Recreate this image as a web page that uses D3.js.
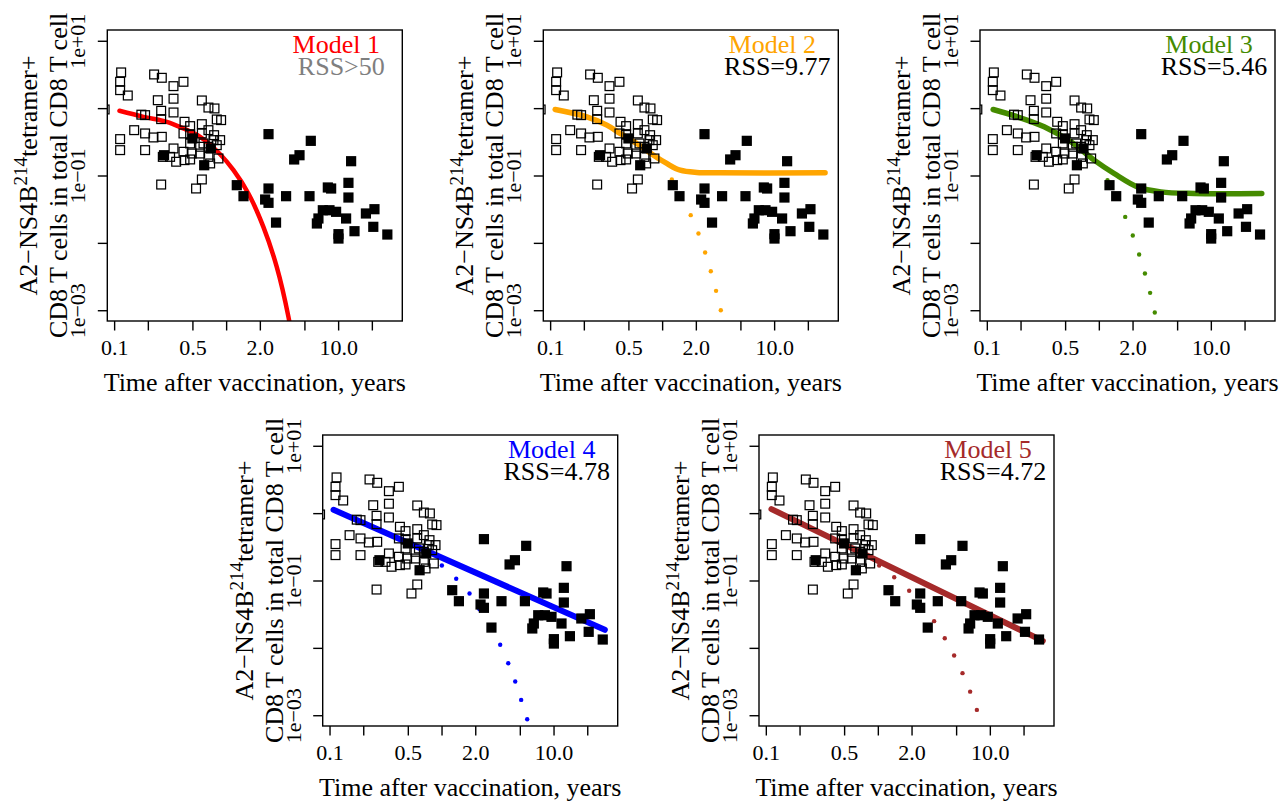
<!DOCTYPE html>
<html>
<head>
<meta charset="utf-8">
<script src="https://cdn.jsdelivr.net/npm/d3@7"></script>
<style>
  body { margin: 0; background: #fff; }
  svg { display: block; font-family: "Liberation Serif", "Times New Roman", serif; }
</style>
</head>
<body>
<div id="chart"></div>
<script>
// Observed data: open squares (early time points) and filled squares (late time points)
const openTime = [0.1155, 0.1131, 0.1131, 0.1324, 0.2275, 0.2665, 0.3388, 0.4159, 0.2455, 0.339,
  0.607, 0.695, 0.787, 0.189, 0.263, 0.339, 0.825, 0.902, 0.263, 0.477,
  0.607, 0.425, 0.151, 0.189, 0.2244, 0.2665, 0.1131, 0.1131, 0.189, 0.339,
  0.416, 0.477, 0.607, 0.695, 0.781, 0.884, 0.771, 0.477, 0.586, 0.695,
  0.825, 0.272, 0.358, 0.425, 0.493, 0.586, 0.695, 0.854, 0.720, 0.477,
  0.263, 0.607, 0.539, 0.316, 0.416, 0.628, 0.0823, 0.175];
const openValue = [3.39, 2.46, 1.85, 1.54, 3.16, 2.82, 2.12, 2.46, 1.31, 1.38,
  1.30, 1.02, 0.989, 0.787, 0.913, 0.862, 0.679, 0.664, 0.687, 0.541,
  0.578, 0.627, 0.471, 0.421, 0.367, 0.375, 0.347, 0.238, 0.238, 0.252,
  0.421, 0.411, 0.421, 0.471, 0.397, 0.335, 0.335, 0.299, 0.267, 0.267,
  0.282, 0.189, 0.160, 0.169, 0.212, 0.212, 0.189, 0.179, 0.151, 0.173,
  0.0734, 0.0873, 0.0641, 0.189, 0.225, 0.299, 0.955, 0.80];

const filledTime = [0.279, 0.500, 0.730, 0.637, 2.39, 5.70, 4.05, 4.52, 13.06, 1.245,
  1.429, 2.39, 2.23, 2.39, 3.43, 5.55, 8.09, 8.66, 12.36, 12.36,
  2.79, 7.30, 8.37, 6.67, 6.46, 9.59, 11.78, 10.07, 10.07, 14.0,
  17.7, 21.1, 20.6, 27.5];
const filledValue = [0.200, 0.355, 0.252, 0.142, 0.411, 0.327, 0.173, 0.200, 0.163, 0.0718,
  0.0493, 0.0641, 0.0440, 0.0393, 0.0493, 0.0493, 0.0664, 0.0641, 0.0778, 0.0471,
  0.0200, 0.0305, 0.0305, 0.0230, 0.0194, 0.0289, 0.0230, 0.01346, 0.01159, 0.0149,
  0.0273, 0.0316, 0.0173, 0.0133];

// Model fits (solid) and alternative trajectories (dotted)
const modelNames = ["Model 1", "Model 2", "Model 3", "Model 4", "Model 5"];
const modelColors = ["#ff0000", "#ffa500", "#458b00", "#0000ff", "#a52a2a"];
const rssLabels = ["RSS>50", "RSS=9.77", "RSS=5.46", "RSS=4.78", "RSS=4.72"];
const rssColors = ["#7f7f7f", "#000000", "#000000", "#000000", "#000000"];

const fitTime = [
  [0.1116, 0.183, 0.295, 0.416, 0.586, 0.884, 1.163, 1.58, 2.15, 2.83, 3.60, 3.99],
  [0.1109, 0.2125, 0.321, 0.4217, 0.594, 0.837, 1.10, 1.45, 2.04, 3.30, 28.5],
  [0.1139, 0.188, 0.325, 0.5623, 0.908, 1.37, 2.21, 3.58, 7.10, 28.5],
  [0.1086, 28.7],
  [0.1123, 29.7]
];
const fitValue = [
  [0.913, 0.743, 0.627, 0.499, 0.375, 0.207, 0.120, 0.0541, 0.0173, 0.0044, 0.000796, 0.000285],
  [0.955, 0.743, 0.560, 0.421, 0.299, 0.200, 0.151, 0.120, 0.111, 0.1096, 0.1096],
  [0.955, 0.743, 0.529, 0.316, 0.169, 0.107, 0.0679, 0.0571, 0.0541, 0.0541],
  [1.121, 0.0185],
  [1.147, 0.0127]
];
const dotTime = [
  [],
  [1.22, 1.50, 1.80, 2.11, 2.42, 2.72, 3.03, 3.34],
  [1.195, 1.44, 1.72, 2.01, 2.29, 2.58, 2.87, 3.16],
  [1.007, 1.352, 1.778, 2.18, 2.68, 3.34, 3.94, 4.55, 5.14, 5.82],
  [1.028, 1.40, 1.905, 2.47, 3.18, 3.96, 4.80, 5.70, 6.67, 7.66]
];
const dotValue = [
  [],
  [0.0873, 0.0482, 0.0258, 0.01377, 0.00718, 0.00379, 0.00194, 0.0010],
  [0.0853, 0.0455, 0.0243, 0.01285, 0.00671, 0.00351, 0.00181, 0.000923],
  [0.167, 0.106, 0.0641, 0.0375, 0.0203, 0.0111, 0.00592, 0.00316, 0.00169, 0.000873],
  [0.167, 0.112, 0.0703, 0.0426, 0.0249, 0.0139, 0.00769, 0.00421, 0.00224, 0.00120]
];

// Axes
const xTicks = [0.1, 0.2, 0.5, 1, 2, 5, 10, 20];
const xTickLabels = ["0.1", "", "0.5", "", "2.0", "", "10.0", ""];
const yTicks = [1e-3, 1e-2, 1e-1, 1, 10];
const yTickLabels = ["1e\u221203", "", "1e\u221201", "", "1e+01"];
const xDomain = [0.0869, 37.4];
const yDomain = [0.000692, 14.45];

const config = {
  width: 1281,
  height: 804,
  plotW: 295,
  plotH: 291,
  panels: [
    { left: 107.3, top: 30 },
    { left: 543.3, top: 30 },
    { left: 980, top: 30 },
    { left: 322.7, top: 435 },
    { left: 759, top: 435 }
  ],
  lineWidths: [4.5, 5.5, 5.5, 6, 6],
  tickLen: 9.5,
  fontSize: { axis: "22px", label: "26px" }
};

const svg = d3.select("#chart").append("svg")
  .attr("width", config.width)
  .attr("height", config.height);

const x = d3.scaleLog().domain(xDomain).range([0, config.plotW]);
const y = d3.scaleLog().domain(yDomain).range([config.plotH, 0]);

const openPts = openTime.map((t, i) => ({ t, v: openValue[i] }));
const filledPts = filledTime.map((t, i) => ({ t, v: filledValue[i] }));

config.panels.forEach((p, k) => {
  const g = svg.append("g").attr("transform", `translate(${p.left},${p.top})`);

  g.append("clipPath").attr("id", `clip${k}`)
    .append("rect").attr("width", config.plotW).attr("height", config.plotH);

  const plot = g.append("g").attr("clip-path", `url(#clip${k})`);

  // dotted alternative trajectory
  plot.selectAll(".dot")
    .data(dotTime[k].map((t, i) => ({ t, v: dotValue[k][i] })))
    .join("circle")
    .attr("cx", d => x(d.t))
    .attr("cy", d => y(d.v))
    .attr("r", 2.2)
    .attr("fill", modelColors[k]);

  // model fit
  const fit = fitTime[k].map((t, i) => ({ t, v: fitValue[k][i] }));
  plot.append("path")
    .datum(fit)
    .attr("fill", "none")
    .attr("stroke", modelColors[k])
    .attr("stroke-width", config.lineWidths[k])
    .attr("stroke-linecap", "round")
    .attr("stroke-linejoin", "round")
    .attr("d", d3.line().x(d => x(d.t)).y(d => y(d.v)).curve(d3.curveCatmullRom.alpha(0.5)));

  // observations
  const sOpen = 8.8, sFill = 10.2;
  plot.selectAll(".open")
    .data(openPts)
    .join("rect")
    .attr("x", d => x(d.t) - sOpen / 2)
    .attr("y", d => y(d.v) - sOpen / 2)
    .attr("width", sOpen)
    .attr("height", sOpen)
    .attr("fill", "none")
    .attr("stroke", "#000")
    .attr("stroke-width", 1.25);

  plot.selectAll(".filled")
    .data(filledPts)
    .join("rect")
    .attr("x", d => x(d.t) - sFill / 2)
    .attr("y", d => y(d.v) - sFill / 2)
    .attr("width", sFill)
    .attr("height", sFill)
    .attr("fill", "#000");

  // box
  g.append("rect")
    .attr("width", config.plotW)
    .attr("height", config.plotH)
    .attr("fill", "none")
    .attr("stroke", "#000")
    .attr("stroke-width", 1.4);

  // x axis
  const xAxis = g.append("g").attr("transform", `translate(0,${config.plotH})`)
    .call(d3.axisBottom(x).tickValues(xTicks).tickSize(config.tickLen).tickPadding(4)
      .tickFormat((d, i) => xTickLabels[i]));
  xAxis.select(".domain").remove();
  xAxis.selectAll(".tick line").attr("stroke-width", 1.4);
  xAxis.selectAll(".tick text")
    .attr("font-family", "Liberation Serif, serif")
    .attr("font-size", config.fontSize.axis)
    .attr("fill", "#000")
    .attr("dy", null)
    .attr("y", 34)
    .attr("dominant-baseline", "alphabetic");

  // y axis
  const yAxis = g.append("g")
    .call(d3.axisLeft(y).tickValues(yTicks).tickSize(config.tickLen).tickFormat((d, i) => yTickLabels[i]));
  yAxis.select(".domain").remove();
  yAxis.selectAll(".tick line").attr("stroke-width", 1.4);
  yAxis.selectAll(".tick text")
    .attr("font-family", "Liberation Serif, serif")
    .attr("font-size", config.fontSize.axis)
    .attr("fill", "#000")
    .attr("x", null)
    .attr("dy", null)
    .attr("text-anchor", "middle")
    .attr("transform", "translate(-22,0) rotate(-90)");

  // axis titles
  g.append("text")
    .attr("x", config.plotW / 2)
    .attr("y", config.plotH + 70)
    .attr("text-anchor", "middle")
    .attr("font-size", config.fontSize.label)
    .text("Time after vaccination, years");

  const yt = g.append("g")
    .attr("transform", `translate(0,${config.plotH / 2}) rotate(-90)`);
  const line1 = yt.append("text")
    .attr("y", -70)
    .attr("text-anchor", "middle")
    .attr("font-size", config.fontSize.label);
  line1.append("tspan").text("A2\u2212NS4B");
  line1.append("tspan").attr("dy", -10).attr("font-size", "19px").text("214");
  line1.append("tspan").attr("dy", 10).text("tetramer+");
  yt.append("text")
    .attr("y", -40)
    .attr("text-anchor", "middle")
    .attr("font-size", config.fontSize.label)
    .text("CD8 T cells in total CD8 T cell");

  // model label
  g.append("text")
    .attr("x", 229)
    .attr("y", 23)
    .attr("text-anchor", "middle")
    .attr("font-size", config.fontSize.label)
    .attr("fill", modelColors[k])
    .text(modelNames[k]);
  g.append("text")
    .attr("x", 234)
    .attr("y", 44.5)
    .attr("text-anchor", "middle")
    .attr("font-size", config.fontSize.label)
    .attr("fill", rssColors[k])
    .text(rssLabels[k]);
});
</script>
</body>
</html>
